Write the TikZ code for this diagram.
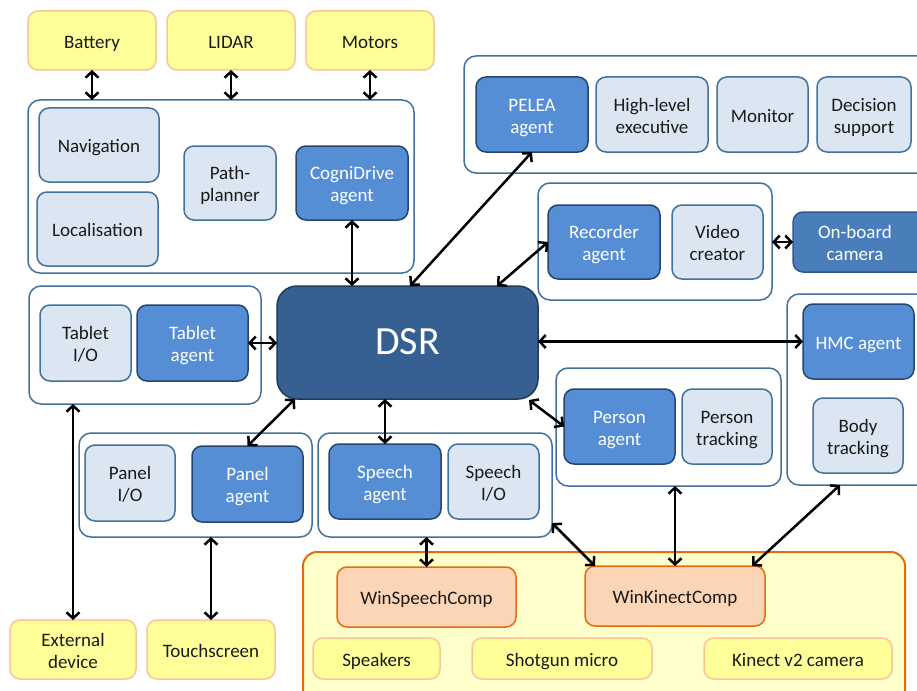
\documentclass[tikz,border=0pt]{standalone}
\usepackage{fontspec}
\setmainfont{Carlito}
\usetikzlibrary{arrows.meta,calc}
\definecolor{lightfill}{HTML}{DCE6F2}
\definecolor{steel}{HTML}{41719C}
\definecolor{agentfill}{HTML}{558ED5}
\definecolor{agentline}{HTML}{24466F}
\definecolor{dsrfill}{HTML}{376092}
\definecolor{dsrline}{HTML}{1F3A5C}
\definecolor{camfill}{HTML}{4A7EBB}
\definecolor{camline}{HTML}{2F5A8A}
\definecolor{yelfill}{HTML}{FFFF99}
\definecolor{yelline}{HTML}{F9C596}
\definecolor{cremefill}{HTML}{FFFFCC}
\definecolor{orangeline}{HTML}{E46C0A}
\definecolor{peach}{HTML}{FBD5B5}
\definecolor{darktext}{HTML}{1A1A1A}
\newcommand\bx[7]{\node[#6, minimum width={(#4-#2)*1pt}, minimum height={(#5-#3)*1pt}] (#1) at ({(#2+#4)/2},{(#3+#5)/2}) {\raisebox{-3.5pt}[\height][\depth]{\begin{tabular}{@{}c@{}}#7\end{tabular}}};}
\tikzset{
  base/.style={rounded corners=10pt, inner sep=0pt, outer sep=0pt, font=\fontsize{19}{22}\selectfont, line width=1.5pt},
  light/.style={base, fill=lightfill, draw=steel, text=darktext},
  agent/.style={base, fill=agentfill, draw=agentline, text=white},
  cont/.style={base, rounded corners=12pt, fill=white, draw=steel},
  dsrbox/.style={base, rounded corners=20pt, fill=dsrfill, draw=dsrline, text=white, font=\fontsize{40}{44}\selectfont},
  cambox/.style={base, fill=camfill, draw=camline, text=white},
  yel/.style={base, fill=yelfill, draw=yelline, text=darktext},
  orangecont/.style={base, rounded corners=14pt, fill=cremefill, draw=orangeline, line width=2pt},
  comp/.style={base, fill=peach, draw=orangeline, text=darktext},
  link/.style={draw=black, line width=2.5pt, {Straight Barb[length=6pt,width=13pt]}-{Straight Barb[length=6pt,width=13pt]}}
}
\begin{document}
\begin{tikzpicture}[x=1pt,y=-1pt]
\clip (0,0) rectangle (917,690);
\fill[white] (0,0) rectangle (917,690);
% containers
\bx{navc}{28}{100}{414}{273}{cont}{}
\bx{peleac}{464}{56}{930}{173}{cont}{}
\bx{recc}{538}{183}{772}{300}{cont}{}
\bx{tabc}{29}{286}{261}{404}{cont}{}
\bx{panc}{79}{433}{312}{537}{cont}{}
\bx{spc}{318}{433}{552}{537}{cont}{}
\bx{perc}{556}{368}{781}{486}{cont}{}
\bx{hmcc}{787}{294}{930}{485}{cont}{}
\bx{winc}{303}{552}{905}{705}{orangecont}{}
% top hardware
\bx{bat}{28}{11}{156}{70}{yel}{Battery}
\bx{lidar}{167}{11}{295}{70}{yel}{LIDAR}
\bx{mot}{306}{11}{434}{70}{yel}{Motors}
% navigation group
\bx{nav}{39}{108}{159}{182}{light}{Navigation}
\bx{loc}{37}{192}{158}{266}{light}{Localisation}
\bx{path}{184}{146}{276}{220}{light}{Path-\\planner}
\bx{cog}{296}{146}{408}{220}{agent}{CogniDrive\\agent}
% PELEA group
\bx{pelea}{476}{77}{588}{152}{agent}{PELEA\\agent}
\bx{hle}{596}{77}{708}{152}{light}{High-level\\executive}
\bx{mon}{717}{77}{808}{152}{light}{Monitor}
\bx{dec}{817}{77}{911}{152}{light}{Decision\\support}
% recorder group
\bx{rec}{548}{205}{660}{279}{agent}{Recorder\\agent}
\bx{vid}{672}{205}{763}{279}{light}{Video\\creator}
\bx{cam}{793}{212}{930}{272}{cambox}{\hspace*{-13pt}On-board\\\hspace*{-13pt}camera}
% DSR
\bx{dsr}{277}{286}{538}{399}{dsrbox}{DSR}
% tablet
\bx{tabio}{40}{305}{131}{381}{light}{Tablet\\I/O}
\bx{tab}{137}{305}{248}{381}{agent}{Tablet\\agent}
% panel
\bx{panio}{85}{445}{175}{521}{light}{Panel\\I/O}
\bx{pan}{192}{446}{303}{522}{agent}{Panel\\agent}
% speech
\bx{sp}{329}{444}{441}{519}{agent}{Speech\\agent}
\bx{spio}{448}{444}{539}{519}{light}{Speech\\I/O}
% person
\bx{per}{564}{389}{675}{464}{agent}{Person\\agent}
\bx{pert}{682}{389}{772}{464}{light}{Person\\tracking}
% HMC
\bx{hmc}{803}{304}{914}{379}{agent}{HMC agent}
\bx{body}{813}{398}{903}{473}{light}{Body\\tracking}
% bottom
\bx{ext}{10}{620}{136}{679}{yel}{External\\device}
\bx{touch}{147}{620}{275}{679}{yel}{Touchscreen}
\bx{ws}{337}{567}{516}{627}{comp}{WinSpeechComp}
\bx{wk}{585}{566}{765}{626}{comp}{WinKinectComp}
\bx{spk}{313}{638}{440}{679}{yel}{Speakers}
\bx{shot}{472}{638}{652}{679}{yel}{Shotgun micro}
\bx{kin}{704}{638}{892}{679}{yel}{Kinect v2 camera}
% connectors
\draw[link] (bat.south) -- (bat.south |- navc.north);
\draw[link] (lidar.south) -- (lidar.south |- navc.north);
\draw[link] (mot.south) -- (mot.south |- navc.north);
\draw[link] (cog.south) -- (cog.south |- dsr.north);
\draw[link] ([xshift=133pt]dsr.north west) -- (pelea.south);
\draw[link] ([xshift=-41pt]dsr.north east) -- (rec.west);
\draw[link] (recc.east |- cam.west) -- (cam.west);
\draw[link] (tab.east) -- (tab.east -| dsr.west);
\draw[link] (dsr.east |- hmc.west) -- (hmc.west);
\draw[link] ([xshift=18pt]dsr.south west) -- (pan.north);
\draw[link] (sp.north |- dsr.south) -- (sp.north);
\draw[link] ([xshift=-9pt,yshift=-1pt]dsr.south east) -- (per.west);
\draw[link] (ext.north |- tabc.south) -- (ext.north);
\draw[link] (touch.north |- panc.south) -- (touch.north);
\draw[link] (ws.north |- spc.south) -- (ws.north);
\draw[link] ([yshift=14pt]spc.south east) -- ([xshift=10pt]wk.north west);
\draw[link] (wk.north |- perc.south) -- (wk.north);
\draw[link] ([xshift=53pt]hmcc.south west) -- ([xshift=-13pt]wk.north east);
\end{tikzpicture}
\end{document}
